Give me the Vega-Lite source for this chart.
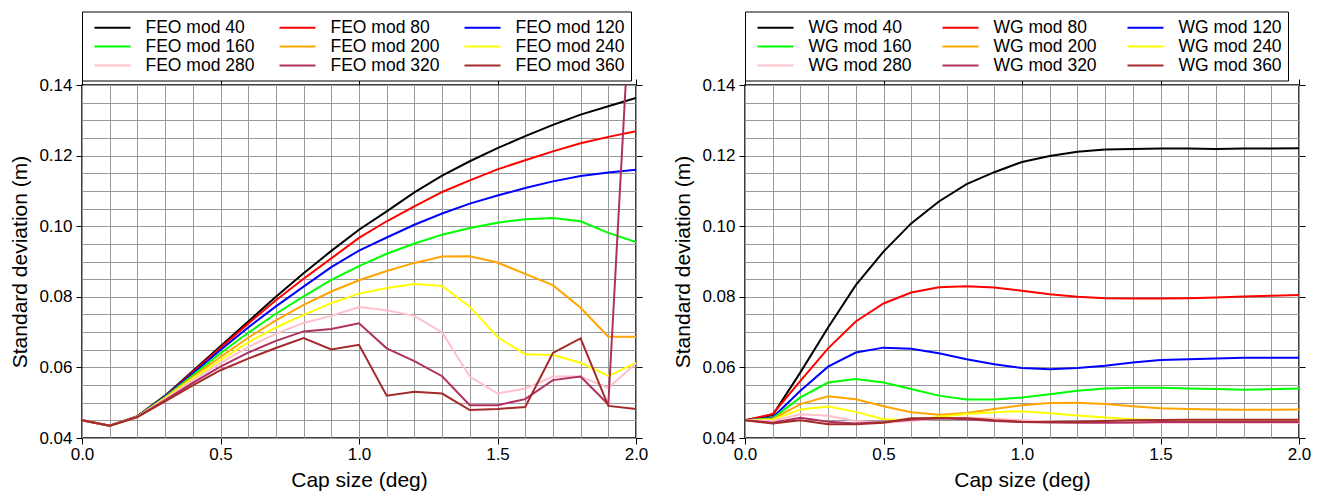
{
"$schema": "https://vega.github.io/schema/vega-lite/v6.json",
"background": "white",
"padding": {"left": 9, "top": 10, "right": 14, "bottom": 4},
"config": {
  "font": "Liberation Sans",
  "view": {"stroke": "black", "strokeWidth": 1.5},
  "axis": {"labelFontSize": 17, "labelColor": "black", "titleFontSize": 21, "titleFontWeight": "normal", "titleColor": "black", "tickColor": "black", "tickSize": 6, "labelPadding": 4, "gridColor": "#999999", "gridWidth": 1, "gridOpacity": 1, "domain": false, "labelOverlap": false, "labelFlush": false},
  "axisBottom": {"labelPadding": 2},
  "legend": {"labelFontSize": 17.5, "labelColor": "black", "symbolType": "M-2,0H2", "symbolStrokeWidth": 2, "symbolSize": 324, "symbolFillColor": "transparent", "labelOffset": 23, "rowPadding": -0.5, "strokeColor": "black", "fillColor": "white", "padding": 6, "symbolOffset": 14.5, "gridAlign": "all", "labelLimit": 300}
},
"datasets": {
"feo": [
{"s":"FEO mod 40","x":0,"y":0.045},{"s":"FEO mod 40","x":0.1,"y":0.0435},{"s":"FEO mod 40","x":0.2,"y":0.0462},{"s":"FEO mod 40","x":0.3,"y":0.052},{"s":"FEO mod 40","x":0.4,"y":0.059},{"s":"FEO mod 40","x":0.5,"y":0.066},{"s":"FEO mod 40","x":0.6,"y":0.073},{"s":"FEO mod 40","x":0.7,"y":0.08},{"s":"FEO mod 40","x":0.8,"y":0.0867},{"s":"FEO mod 40","x":0.9,"y":0.093},{"s":"FEO mod 40","x":1.0,"y":0.099},{"s":"FEO mod 40","x":1.1,"y":0.1042},{"s":"FEO mod 40","x":1.2,"y":0.1096},{"s":"FEO mod 40","x":1.3,"y":0.1143},{"s":"FEO mod 40","x":1.4,"y":0.1184},{"s":"FEO mod 40","x":1.5,"y":0.1221},{"s":"FEO mod 40","x":1.6,"y":0.1255},{"s":"FEO mod 40","x":1.7,"y":0.1287},{"s":"FEO mod 40","x":1.8,"y":0.1316},{"s":"FEO mod 40","x":1.9,"y":0.134},{"s":"FEO mod 40","x":2.0,"y":0.1363},
{"s":"FEO mod 80","x":0,"y":0.045},{"s":"FEO mod 80","x":0.1,"y":0.0435},{"s":"FEO mod 80","x":0.2,"y":0.0461},{"s":"FEO mod 80","x":0.3,"y":0.0519},{"s":"FEO mod 80","x":0.4,"y":0.0587},{"s":"FEO mod 80","x":0.5,"y":0.0656},{"s":"FEO mod 80","x":0.6,"y":0.0724},{"s":"FEO mod 80","x":0.7,"y":0.079},{"s":"FEO mod 80","x":0.8,"y":0.0851},{"s":"FEO mod 80","x":0.9,"y":0.0909},{"s":"FEO mod 80","x":1.0,"y":0.0967},{"s":"FEO mod 80","x":1.1,"y":0.1014},{"s":"FEO mod 80","x":1.2,"y":0.1056},{"s":"FEO mod 80","x":1.3,"y":0.1097},{"s":"FEO mod 80","x":1.4,"y":0.113},{"s":"FEO mod 80","x":1.5,"y":0.1161},{"s":"FEO mod 80","x":1.6,"y":0.1187},{"s":"FEO mod 80","x":1.7,"y":0.1212},{"s":"FEO mod 80","x":1.8,"y":0.1235},{"s":"FEO mod 80","x":1.9,"y":0.1253},{"s":"FEO mod 80","x":2.0,"y":0.1269},
{"s":"FEO mod 120","x":0,"y":0.045},{"s":"FEO mod 120","x":0.1,"y":0.0435},{"s":"FEO mod 120","x":0.2,"y":0.0461},{"s":"FEO mod 120","x":0.3,"y":0.0518},{"s":"FEO mod 120","x":0.4,"y":0.0583},{"s":"FEO mod 120","x":0.5,"y":0.0649},{"s":"FEO mod 120","x":0.6,"y":0.0713},{"s":"FEO mod 120","x":0.7,"y":0.0773},{"s":"FEO mod 120","x":0.8,"y":0.0829},{"s":"FEO mod 120","x":0.9,"y":0.0884},{"s":"FEO mod 120","x":1.0,"y":0.0931},{"s":"FEO mod 120","x":1.1,"y":0.0968},{"s":"FEO mod 120","x":1.2,"y":0.1004},{"s":"FEO mod 120","x":1.3,"y":0.1036},{"s":"FEO mod 120","x":1.4,"y":0.1064},{"s":"FEO mod 120","x":1.5,"y":0.1087},{"s":"FEO mod 120","x":1.6,"y":0.1108},{"s":"FEO mod 120","x":1.7,"y":0.1127},{"s":"FEO mod 120","x":1.8,"y":0.1142},{"s":"FEO mod 120","x":1.9,"y":0.1152},{"s":"FEO mod 120","x":2.0,"y":0.116},
{"s":"FEO mod 160","x":0,"y":0.045},{"s":"FEO mod 160","x":0.1,"y":0.0435},{"s":"FEO mod 160","x":0.2,"y":0.0461},{"s":"FEO mod 160","x":0.3,"y":0.0516},{"s":"FEO mod 160","x":0.4,"y":0.0578},{"s":"FEO mod 160","x":0.5,"y":0.064},{"s":"FEO mod 160","x":0.6,"y":0.0698},{"s":"FEO mod 160","x":0.7,"y":0.0752},{"s":"FEO mod 160","x":0.8,"y":0.0801},{"s":"FEO mod 160","x":0.9,"y":0.0848},{"s":"FEO mod 160","x":1.0,"y":0.0887},{"s":"FEO mod 160","x":1.1,"y":0.0922},{"s":"FEO mod 160","x":1.2,"y":0.0951},{"s":"FEO mod 160","x":1.3,"y":0.0976},{"s":"FEO mod 160","x":1.4,"y":0.0995},{"s":"FEO mod 160","x":1.5,"y":0.101},{"s":"FEO mod 160","x":1.6,"y":0.102},{"s":"FEO mod 160","x":1.7,"y":0.1023},{"s":"FEO mod 160","x":1.8,"y":0.1014},{"s":"FEO mod 160","x":1.9,"y":0.0981},{"s":"FEO mod 160","x":2.0,"y":0.0955},
{"s":"FEO mod 200","x":0,"y":0.045},{"s":"FEO mod 200","x":0.1,"y":0.0435},{"s":"FEO mod 200","x":0.2,"y":0.046},{"s":"FEO mod 200","x":0.3,"y":0.0514},{"s":"FEO mod 200","x":0.4,"y":0.0573},{"s":"FEO mod 200","x":0.5,"y":0.063},{"s":"FEO mod 200","x":0.6,"y":0.0684},{"s":"FEO mod 200","x":0.7,"y":0.0733},{"s":"FEO mod 200","x":0.8,"y":0.0777},{"s":"FEO mod 200","x":0.9,"y":0.0815},{"s":"FEO mod 200","x":1.0,"y":0.0847},{"s":"FEO mod 200","x":1.1,"y":0.0873},{"s":"FEO mod 200","x":1.2,"y":0.0896},{"s":"FEO mod 200","x":1.3,"y":0.0914},{"s":"FEO mod 200","x":1.4,"y":0.0915},{"s":"FEO mod 200","x":1.5,"y":0.0897},{"s":"FEO mod 200","x":1.6,"y":0.0865},{"s":"FEO mod 200","x":1.7,"y":0.0833},{"s":"FEO mod 200","x":1.8,"y":0.0769},{"s":"FEO mod 200","x":1.9,"y":0.0687},{"s":"FEO mod 200","x":2.0,"y":0.0687},
{"s":"FEO mod 240","x":0,"y":0.045},{"s":"FEO mod 240","x":0.1,"y":0.0435},{"s":"FEO mod 240","x":0.2,"y":0.046},{"s":"FEO mod 240","x":0.3,"y":0.0512},{"s":"FEO mod 240","x":0.4,"y":0.0568},{"s":"FEO mod 240","x":0.5,"y":0.0621},{"s":"FEO mod 240","x":0.6,"y":0.0671},{"s":"FEO mod 240","x":0.7,"y":0.0713},{"s":"FEO mod 240","x":0.8,"y":0.0749},{"s":"FEO mod 240","x":0.9,"y":0.0782},{"s":"FEO mod 240","x":1.0,"y":0.0809},{"s":"FEO mod 240","x":1.1,"y":0.0825},{"s":"FEO mod 240","x":1.2,"y":0.0836},{"s":"FEO mod 240","x":1.3,"y":0.0831},{"s":"FEO mod 240","x":1.4,"y":0.0772},{"s":"FEO mod 240","x":1.5,"y":0.0686},{"s":"FEO mod 240","x":1.6,"y":0.0637},{"s":"FEO mod 240","x":1.7,"y":0.0635},{"s":"FEO mod 240","x":1.8,"y":0.0613},{"s":"FEO mod 240","x":1.9,"y":0.0576},{"s":"FEO mod 240","x":2.0,"y":0.0613},
{"s":"FEO mod 280","x":0,"y":0.045},{"s":"FEO mod 280","x":0.1,"y":0.0435},{"s":"FEO mod 280","x":0.2,"y":0.046},{"s":"FEO mod 280","x":0.3,"y":0.051},{"s":"FEO mod 280","x":0.4,"y":0.0563},{"s":"FEO mod 280","x":0.5,"y":0.0612},{"s":"FEO mod 280","x":0.6,"y":0.0658},{"s":"FEO mod 280","x":0.7,"y":0.0695},{"s":"FEO mod 280","x":0.8,"y":0.0726},{"s":"FEO mod 280","x":0.9,"y":0.0746},{"s":"FEO mod 280","x":1.0,"y":0.0771},{"s":"FEO mod 280","x":1.1,"y":0.0762},{"s":"FEO mod 280","x":1.2,"y":0.0746},{"s":"FEO mod 280","x":1.3,"y":0.0699},{"s":"FEO mod 280","x":1.4,"y":0.0574},{"s":"FEO mod 280","x":1.5,"y":0.0526},{"s":"FEO mod 280","x":1.6,"y":0.054},{"s":"FEO mod 280","x":1.7,"y":0.0574},{"s":"FEO mod 280","x":1.8,"y":0.0574},{"s":"FEO mod 280","x":1.9,"y":0.0542},{"s":"FEO mod 280","x":2.0,"y":0.0611},
{"s":"FEO mod 320","x":0,"y":0.045},{"s":"FEO mod 320","x":0.1,"y":0.0435},{"s":"FEO mod 320","x":0.2,"y":0.046},{"s":"FEO mod 320","x":0.3,"y":0.0507},{"s":"FEO mod 320","x":0.4,"y":0.0556},{"s":"FEO mod 320","x":0.5,"y":0.0602},{"s":"FEO mod 320","x":0.6,"y":0.0642},{"s":"FEO mod 320","x":0.7,"y":0.0675},{"s":"FEO mod 320","x":0.8,"y":0.0702},{"s":"FEO mod 320","x":0.9,"y":0.0709},{"s":"FEO mod 320","x":1.0,"y":0.0725},{"s":"FEO mod 320","x":1.1,"y":0.0654},{"s":"FEO mod 320","x":1.2,"y":0.0618},{"s":"FEO mod 320","x":1.3,"y":0.0575},{"s":"FEO mod 320","x":1.4,"y":0.0493},{"s":"FEO mod 320","x":1.5,"y":0.0493},{"s":"FEO mod 320","x":1.6,"y":0.051},{"s":"FEO mod 320","x":1.7,"y":0.0564},{"s":"FEO mod 320","x":1.8,"y":0.0574},{"s":"FEO mod 320","x":1.9,"y":0.0495},{"s":"FEO mod 320","x":2.0,"y":0.194},
{"s":"FEO mod 360","x":0,"y":0.045},{"s":"FEO mod 360","x":0.1,"y":0.0435},{"s":"FEO mod 360","x":0.2,"y":0.0459},{"s":"FEO mod 360","x":0.3,"y":0.0504},{"s":"FEO mod 360","x":0.4,"y":0.0549},{"s":"FEO mod 360","x":0.5,"y":0.0592},{"s":"FEO mod 360","x":0.6,"y":0.0625},{"s":"FEO mod 360","x":0.7,"y":0.0655},{"s":"FEO mod 360","x":0.8,"y":0.0683},{"s":"FEO mod 360","x":0.9,"y":0.0651},{"s":"FEO mod 360","x":1.0,"y":0.0664},{"s":"FEO mod 360","x":1.1,"y":0.052},{"s":"FEO mod 360","x":1.2,"y":0.0531},{"s":"FEO mod 360","x":1.3,"y":0.0526},{"s":"FEO mod 360","x":1.4,"y":0.0479},{"s":"FEO mod 360","x":1.5,"y":0.0482},{"s":"FEO mod 360","x":1.6,"y":0.0488},{"s":"FEO mod 360","x":1.7,"y":0.0641},{"s":"FEO mod 360","x":1.8,"y":0.0682},{"s":"FEO mod 360","x":1.9,"y":0.0491},{"s":"FEO mod 360","x":2.0,"y":0.0482}
],
"wg": [
{"s":"WG mod 40","x":0,"y":0.045},{"s":"WG mod 40","x":0.1,"y":0.0465},{"s":"WG mod 40","x":0.2,"y":0.0586},{"s":"WG mod 40","x":0.3,"y":0.0713},{"s":"WG mod 40","x":0.4,"y":0.0833},{"s":"WG mod 40","x":0.5,"y":0.0928},{"s":"WG mod 40","x":0.6,"y":0.1008},{"s":"WG mod 40","x":0.7,"y":0.107},{"s":"WG mod 40","x":0.8,"y":0.1119},{"s":"WG mod 40","x":0.9,"y":0.1153},{"s":"WG mod 40","x":1.0,"y":0.1182},{"s":"WG mod 40","x":1.1,"y":0.1199},{"s":"WG mod 40","x":1.2,"y":0.1211},{"s":"WG mod 40","x":1.3,"y":0.1217},{"s":"WG mod 40","x":1.4,"y":0.1219},{"s":"WG mod 40","x":1.5,"y":0.122},{"s":"WG mod 40","x":1.6,"y":0.122},{"s":"WG mod 40","x":1.7,"y":0.1219},{"s":"WG mod 40","x":1.8,"y":0.122},{"s":"WG mod 40","x":1.9,"y":0.122},{"s":"WG mod 40","x":2.0,"y":0.1221},
{"s":"WG mod 80","x":0,"y":0.045},{"s":"WG mod 80","x":0.1,"y":0.0468},{"s":"WG mod 80","x":0.2,"y":0.0562},{"s":"WG mod 80","x":0.3,"y":0.0654},{"s":"WG mod 80","x":0.4,"y":0.073},{"s":"WG mod 80","x":0.5,"y":0.0781},{"s":"WG mod 80","x":0.6,"y":0.0812},{"s":"WG mod 80","x":0.7,"y":0.0827},{"s":"WG mod 80","x":0.8,"y":0.083},{"s":"WG mod 80","x":0.9,"y":0.0826},{"s":"WG mod 80","x":1.0,"y":0.0817},{"s":"WG mod 80","x":1.1,"y":0.0807},{"s":"WG mod 80","x":1.2,"y":0.08},{"s":"WG mod 80","x":1.3,"y":0.0796},{"s":"WG mod 80","x":1.4,"y":0.0795},{"s":"WG mod 80","x":1.5,"y":0.0795},{"s":"WG mod 80","x":1.6,"y":0.0796},{"s":"WG mod 80","x":1.7,"y":0.0798},{"s":"WG mod 80","x":1.8,"y":0.0801},{"s":"WG mod 80","x":1.9,"y":0.0803},{"s":"WG mod 80","x":2.0,"y":0.0805},
{"s":"WG mod 120","x":0,"y":0.045},{"s":"WG mod 120","x":0.1,"y":0.0458},{"s":"WG mod 120","x":0.2,"y":0.0534},{"s":"WG mod 120","x":0.3,"y":0.0602},{"s":"WG mod 120","x":0.4,"y":0.0642},{"s":"WG mod 120","x":0.5,"y":0.0656},{"s":"WG mod 120","x":0.6,"y":0.0653},{"s":"WG mod 120","x":0.7,"y":0.064},{"s":"WG mod 120","x":0.8,"y":0.0623},{"s":"WG mod 120","x":0.9,"y":0.0609},{"s":"WG mod 120","x":1.0,"y":0.0598},{"s":"WG mod 120","x":1.1,"y":0.0595},{"s":"WG mod 120","x":1.2,"y":0.0598},{"s":"WG mod 120","x":1.3,"y":0.0605},{"s":"WG mod 120","x":1.4,"y":0.0614},{"s":"WG mod 120","x":1.5,"y":0.0621},{"s":"WG mod 120","x":1.6,"y":0.0623},{"s":"WG mod 120","x":1.7,"y":0.0625},{"s":"WG mod 120","x":1.8,"y":0.0627},{"s":"WG mod 120","x":1.9,"y":0.0627},{"s":"WG mod 120","x":2.0,"y":0.0627},
{"s":"WG mod 160","x":0,"y":0.045},{"s":"WG mod 160","x":0.1,"y":0.0456},{"s":"WG mod 160","x":0.2,"y":0.0515},{"s":"WG mod 160","x":0.3,"y":0.0557},{"s":"WG mod 160","x":0.4,"y":0.0567},{"s":"WG mod 160","x":0.5,"y":0.0557},{"s":"WG mod 160","x":0.6,"y":0.0539},{"s":"WG mod 160","x":0.7,"y":0.052},{"s":"WG mod 160","x":0.8,"y":0.0509},{"s":"WG mod 160","x":0.9,"y":0.0509},{"s":"WG mod 160","x":1.0,"y":0.0515},{"s":"WG mod 160","x":1.1,"y":0.0524},{"s":"WG mod 160","x":1.2,"y":0.0534},{"s":"WG mod 160","x":1.3,"y":0.054},{"s":"WG mod 160","x":1.4,"y":0.0542},{"s":"WG mod 160","x":1.5,"y":0.0542},{"s":"WG mod 160","x":1.6,"y":0.054},{"s":"WG mod 160","x":1.7,"y":0.0539},{"s":"WG mod 160","x":1.8,"y":0.0537},{"s":"WG mod 160","x":1.9,"y":0.0538},{"s":"WG mod 160","x":2.0,"y":0.054},
{"s":"WG mod 200","x":0,"y":0.045},{"s":"WG mod 200","x":0.1,"y":0.0454},{"s":"WG mod 200","x":0.2,"y":0.0496},{"s":"WG mod 200","x":0.3,"y":0.0518},{"s":"WG mod 200","x":0.4,"y":0.051},{"s":"WG mod 200","x":0.5,"y":0.049},{"s":"WG mod 200","x":0.6,"y":0.0473},{"s":"WG mod 200","x":0.7,"y":0.0466},{"s":"WG mod 200","x":0.8,"y":0.0471},{"s":"WG mod 200","x":0.9,"y":0.0482},{"s":"WG mod 200","x":1.0,"y":0.0493},{"s":"WG mod 200","x":1.1,"y":0.0499},{"s":"WG mod 200","x":1.2,"y":0.05},{"s":"WG mod 200","x":1.3,"y":0.0496},{"s":"WG mod 200","x":1.4,"y":0.049},{"s":"WG mod 200","x":1.5,"y":0.0484},{"s":"WG mod 200","x":1.6,"y":0.0482},{"s":"WG mod 200","x":1.7,"y":0.0481},{"s":"WG mod 200","x":1.8,"y":0.048},{"s":"WG mod 200","x":1.9,"y":0.048},{"s":"WG mod 200","x":2.0,"y":0.0481},
{"s":"WG mod 240","x":0,"y":0.045},{"s":"WG mod 240","x":0.1,"y":0.0452},{"s":"WG mod 240","x":0.2,"y":0.0481},{"s":"WG mod 240","x":0.3,"y":0.0489},{"s":"WG mod 240","x":0.4,"y":0.0474},{"s":"WG mod 240","x":0.5,"y":0.0453},{"s":"WG mod 240","x":0.6,"y":0.045},{"s":"WG mod 240","x":0.7,"y":0.046},{"s":"WG mod 240","x":0.8,"y":0.0468},{"s":"WG mod 240","x":0.9,"y":0.0473},{"s":"WG mod 240","x":1.0,"y":0.0476},{"s":"WG mod 240","x":1.1,"y":0.047},{"s":"WG mod 240","x":1.2,"y":0.0464},{"s":"WG mod 240","x":1.3,"y":0.0458},{"s":"WG mod 240","x":1.4,"y":0.0453},{"s":"WG mod 240","x":1.5,"y":0.0451},{"s":"WG mod 240","x":1.6,"y":0.045},{"s":"WG mod 240","x":1.7,"y":0.045},{"s":"WG mod 240","x":1.8,"y":0.045},{"s":"WG mod 240","x":1.9,"y":0.045},{"s":"WG mod 240","x":2.0,"y":0.045},
{"s":"WG mod 280","x":0,"y":0.045},{"s":"WG mod 280","x":0.1,"y":0.0448},{"s":"WG mod 280","x":0.2,"y":0.0467},{"s":"WG mod 280","x":0.3,"y":0.0463},{"s":"WG mod 280","x":0.4,"y":0.0448},{"s":"WG mod 280","x":0.5,"y":0.0443},{"s":"WG mod 280","x":0.6,"y":0.0448},{"s":"WG mod 280","x":0.7,"y":0.0455},{"s":"WG mod 280","x":0.8,"y":0.0458},{"s":"WG mod 280","x":0.9,"y":0.0455},{"s":"WG mod 280","x":1.0,"y":0.045},{"s":"WG mod 280","x":1.1,"y":0.0447},{"s":"WG mod 280","x":1.2,"y":0.0445},{"s":"WG mod 280","x":1.3,"y":0.0444},{"s":"WG mod 280","x":1.4,"y":0.0443},{"s":"WG mod 280","x":1.5,"y":0.0443},{"s":"WG mod 280","x":1.6,"y":0.0443},{"s":"WG mod 280","x":1.7,"y":0.0443},{"s":"WG mod 280","x":1.8,"y":0.0443},{"s":"WG mod 280","x":1.9,"y":0.0443},{"s":"WG mod 280","x":2.0,"y":0.0443},
{"s":"WG mod 320","x":0,"y":0.045},{"s":"WG mod 320","x":0.1,"y":0.0443},{"s":"WG mod 320","x":0.2,"y":0.0457},{"s":"WG mod 320","x":0.3,"y":0.0446},{"s":"WG mod 320","x":0.4,"y":0.0441},{"s":"WG mod 320","x":0.5,"y":0.0445},{"s":"WG mod 320","x":0.6,"y":0.0452},{"s":"WG mod 320","x":0.7,"y":0.0456},{"s":"WG mod 320","x":0.8,"y":0.0453},{"s":"WG mod 320","x":0.9,"y":0.0448},{"s":"WG mod 320","x":1.0,"y":0.0445},{"s":"WG mod 320","x":1.1,"y":0.0444},{"s":"WG mod 320","x":1.2,"y":0.0443},{"s":"WG mod 320","x":1.3,"y":0.0443},{"s":"WG mod 320","x":1.4,"y":0.0444},{"s":"WG mod 320","x":1.5,"y":0.0445},{"s":"WG mod 320","x":1.6,"y":0.0445},{"s":"WG mod 320","x":1.7,"y":0.0445},{"s":"WG mod 320","x":1.8,"y":0.0445},{"s":"WG mod 320","x":1.9,"y":0.0445},{"s":"WG mod 320","x":2.0,"y":0.0445},
{"s":"WG mod 360","x":0,"y":0.045},{"s":"WG mod 360","x":0.1,"y":0.0441},{"s":"WG mod 360","x":0.2,"y":0.045},{"s":"WG mod 360","x":0.3,"y":0.0439},{"s":"WG mod 360","x":0.4,"y":0.0439},{"s":"WG mod 360","x":0.5,"y":0.0443},{"s":"WG mod 360","x":0.6,"y":0.0456},{"s":"WG mod 360","x":0.7,"y":0.0457},{"s":"WG mod 360","x":0.8,"y":0.0456},{"s":"WG mod 360","x":0.9,"y":0.045},{"s":"WG mod 360","x":1.0,"y":0.0446},{"s":"WG mod 360","x":1.1,"y":0.0445},{"s":"WG mod 360","x":1.2,"y":0.0446},{"s":"WG mod 360","x":1.3,"y":0.0448},{"s":"WG mod 360","x":1.4,"y":0.045},{"s":"WG mod 360","x":1.5,"y":0.0451},{"s":"WG mod 360","x":1.6,"y":0.0452},{"s":"WG mod 360","x":1.7,"y":0.0452},{"s":"WG mod 360","x":1.8,"y":0.0452},{"s":"WG mod 360","x":1.9,"y":0.0452},{"s":"WG mod 360","x":2.0,"y":0.0452}
]
},
"spacing": 23,
"resolve": {"scale": {"color": "independent"}, "legend": {"color": "independent"}},
"hconcat": [
{
  "width": 554, "height": 353,
  "data": {"name": "feo"},
  "resolve": {"axis": {"x": "independent", "y": "independent"}},
  "layer": [
    {
      "mark": {"type": "line", "clip": true, "strokeWidth": 2},
      "encoding": {
        "x": {"field": "x", "type": "quantitative", "scale": {"domain": [0, 2], "nice": false, "zero": false},
          "axis": {"orient": "bottom", "title": "Cap size (deg)", "values": [0,0.1,0.2,0.3,0.4,0.5,0.6,0.7,0.8,0.9,1,1.1,1.2,1.3,1.4,1.5,1.6,1.7,1.8,1.9,2],
            "labelExpr": "abs(datum.value*2 - round(datum.value*2)) < 0.001 ? format(datum.value, '.1f') : ''",
            "tickOpacity": {"condition": {"test": "abs(datum.value*2 - round(datum.value*2)) < 0.001", "value": 1}, "value": 0},
            "grid": true, "titlePadding": 7}},
        "y": {"field": "y", "type": "quantitative", "scale": {"domain": [0.04, 0.14], "nice": false, "zero": false},
          "axis": {"orient": "left", "title": "Standard deviation (m)", "values": [0.04,0.045,0.05,0.055,0.06,0.065,0.07,0.075,0.08,0.085,0.09,0.095,0.1,0.105,0.11,0.115,0.12,0.125,0.13,0.135,0.14],
            "labelExpr": "abs(datum.value*50 - round(datum.value*50)) < 0.001 ? format(datum.value, '.2f') : ''",
            "tickOpacity": {"condition": {"test": "abs(datum.value*50 - round(datum.value*50)) < 0.001", "value": 1}, "value": 0},
            "grid": true, "titlePadding": 8}},
        "color": {"field": "s", "type": "nominal",
          "scale": {"domain": ["FEO mod 40","FEO mod 80","FEO mod 120","FEO mod 160","FEO mod 200","FEO mod 240","FEO mod 280","FEO mod 320","FEO mod 360"],
                    "range": ["#000000","#ff0000","#0000ff","#00ff00","#ffa500","#ffff00","#ffc0cb","#b03060","#a52a2a"]},
          "legend": {"title": null, "orient": "none", "legendX": 0, "legendY": -73.5, "columns": 3, "direction": "horizontal", "columnPadding": 18}}
      }
    },
    {
      "mark": {"type": "line", "clip": true, "opacity": 0},
      "encoding": {
        "x": {"field": "x", "type": "quantitative", "axis": {"orient": "top", "title": null, "values": [0,0.5,1,1.5,2], "labels": false, "grid": false}},
        "y": {"field": "y", "type": "quantitative", "axis": {"orient": "right", "title": null, "values": [0.04,0.06,0.08,0.1,0.12,0.14], "labels": false, "grid": false}}
      }
    }
  ]
},
{
  "width": 554, "height": 353,
  "data": {"name": "wg"},
  "resolve": {"axis": {"x": "independent", "y": "independent"}},
  "layer": [
    {
      "mark": {"type": "line", "clip": true, "strokeWidth": 2},
      "encoding": {
        "x": {"field": "x", "type": "quantitative", "scale": {"domain": [0, 2], "nice": false, "zero": false},
          "axis": {"orient": "bottom", "title": "Cap size (deg)", "values": [0,0.1,0.2,0.3,0.4,0.5,0.6,0.7,0.8,0.9,1,1.1,1.2,1.3,1.4,1.5,1.6,1.7,1.8,1.9,2],
            "labelExpr": "abs(datum.value*2 - round(datum.value*2)) < 0.001 ? format(datum.value, '.1f') : ''",
            "tickOpacity": {"condition": {"test": "abs(datum.value*2 - round(datum.value*2)) < 0.001", "value": 1}, "value": 0},
            "grid": true, "titlePadding": 7}},
        "y": {"field": "y", "type": "quantitative", "scale": {"domain": [0.04, 0.14], "nice": false, "zero": false},
          "axis": {"orient": "left", "title": "Standard deviation (m)", "values": [0.04,0.045,0.05,0.055,0.06,0.065,0.07,0.075,0.08,0.085,0.09,0.095,0.1,0.105,0.11,0.115,0.12,0.125,0.13,0.135,0.14],
            "labelExpr": "abs(datum.value*50 - round(datum.value*50)) < 0.001 ? format(datum.value, '.2f') : ''",
            "tickOpacity": {"condition": {"test": "abs(datum.value*50 - round(datum.value*50)) < 0.001", "value": 1}, "value": 0},
            "grid": true, "titlePadding": 8}},
        "color": {"field": "s", "type": "nominal",
          "scale": {"domain": ["WG mod 40","WG mod 80","WG mod 120","WG mod 160","WG mod 200","WG mod 240","WG mod 280","WG mod 320","WG mod 360"],
                    "range": ["#000000","#ff0000","#0000ff","#00ff00","#ffa500","#ffff00","#ffc0cb","#b03060","#a52a2a"]},
          "legend": {"title": null, "orient": "none", "legendX": 0, "legendY": -73.5, "columns": 3, "direction": "horizontal", "columnPadding": 24}}
      }
    },
    {
      "mark": {"type": "line", "clip": true, "opacity": 0},
      "encoding": {
        "x": {"field": "x", "type": "quantitative", "axis": {"orient": "top", "title": null, "values": [0,0.5,1,1.5,2], "labels": false, "grid": false}},
        "y": {"field": "y", "type": "quantitative", "axis": {"orient": "right", "title": null, "values": [0.04,0.06,0.08,0.1,0.12,0.14], "labels": false, "grid": false}}
      }
    }
  ]
}
]
}
